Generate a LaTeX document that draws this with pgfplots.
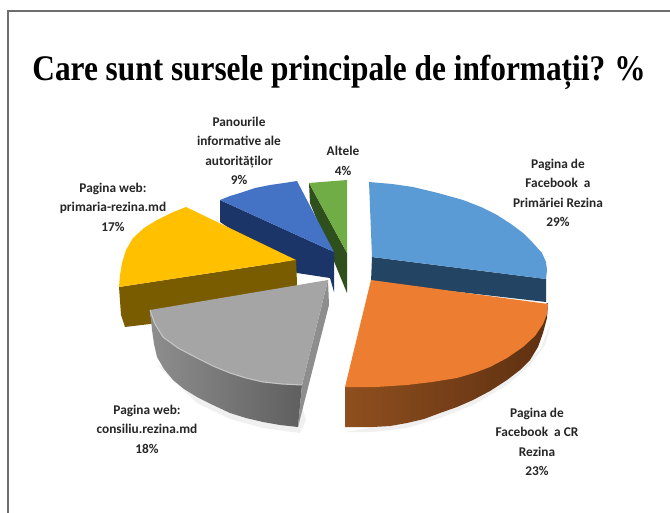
\documentclass[border=0pt]{standalone}
\usepackage{fontspec}
\setmainfont{Carlito}
\newfontfamily\titlefont{Liberation Serif}[FakeStretch=0.87]
\usepackage{pgfplots}
\pgfplotsset{compat=1.18}
\definecolor{frame}{HTML}{6E6E6E}
\definecolor{lab}{HTML}{262626}
\definecolor{bluetop}{HTML}{5B9BD5}
\definecolor{blueside}{HTML}{234563}
\definecolor{orangetop}{HTML}{ED7D31}
\definecolor{orangeA}{HTML}{8F4F1E}
\definecolor{orangeB}{HTML}{5E3011}
\definecolor{graytop}{HTML}{A5A5A5}
\definecolor{grayA}{HTML}{8E8E8E}
\definecolor{grayB}{HTML}{5F5F5F}
\definecolor{yellowtop}{HTML}{FFC000}
\definecolor{yellowside}{HTML}{7A5C00}
\definecolor{navytop}{HTML}{4472C4}
\definecolor{navyside}{HTML}{1C3568}
\definecolor{greentop}{HTML}{70AD47}
\definecolor{greenside}{HTML}{2F4F1C}
\tikzset{lbl/.style={font=\bfseries\fontsize{10}{14.6}\selectfont,text=lab,align=center,inner sep=0pt}}
\begin{document}
\begin{tikzpicture}
\begin{axis}[width=502.5pt,height=384.75pt,scale only axis,hide axis,
 xmin=0,xmax=670,ymin=0,ymax=513,y dir=reverse,clip=true]
% page background, keeps the full picture size
\addplot[fill=white,draw=none] coordinates {(0,0) (670,0) (670,513) (0,513)};
% frame
\addplot[frame,line width=2pt] coordinates {(670,11) (8,11) (8,513)};
% shadows
\addplot[fill=black!6,draw=none] coordinates {(157,365) (197,403) (230,419) (263,428) (300,433) (306,420) (300,400)};
\addplot[fill=black!6,draw=none] coordinates {(345,432) (373,432) (407,428) (440,418) (473,405) (507,385) (530,365) (545,345) (552,320) (540,350) (500,380) (420,420)};
% green
\addplot[fill=greenside,draw=none] coordinates {(309,183) (347,253) (347,293) (310,203)};
\addplot[fill=greentop,draw=none] coordinates {(309,183) (347,180) (347,253)};
% dark blue
\addplot[fill=navyside,draw=none] coordinates {(220,200) (334,252) (334,292) (330,278) (297,273) (220,222)};
\addplot[fill=navytop,draw=none] coordinates {(220,200) (230,196) (240,193) (255,188) (270,185) (284,183) (297,181) (334,252)};
% yellow
\addplot[fill=yellowside,draw=none] coordinates {(119,287) (296,260) (297,283) (296,290) (150,324) (125,327) (121,315)};
\addplot[fill=yellowtop,draw=none] coordinates {(186,207) (171,213) (157,220) (144,228) (133,238) (126,250) (122,263) (120,275) (119,287) (296,260)};
% gray
\addplot[shade,left color=grayA,right color=grayB,draw=none] coordinates {(150,310) (152,330) (154,344) (157,357) (164,369) (173,380) (184,389) (197,397) (213,405) (230,413) (246,418) (263,422) (280,425) (298,427) (302,385) (150,310)};
\addplot[fill=grayA,draw=none] coordinates {(302,385) (298,427) (329,305) (328,280)};
\addplot[fill=graytop,draw=none] coordinates {(150,310) (155,324) (163,337) (178,348) (197,358) (213,366) (230,373) (246,378) (263,382) (282,384) (302,385) (328,280)};
\addplot[gray!45,line width=0.8pt] coordinates {(150,310) (155,324) (163,337) (178,348) (197,358) (213,366) (230,373) (246,378) (263,382) (282,384) (302,385)};
% blue
\addplot[fill=blueside,draw=none] coordinates {(372,257) (546,279) (546,302) (371,282)};
\addplot[fill=bluetop,draw=none] coordinates {(369,182) (392,184) (413,187) (438,193) (463,200) (481,207) (497,215) (511,224) (523,233) (533,243) (542,253) (546,262) (547,270) (546,279) (372,257)};
% orange
\addplot[shade,left color=orangeA,right color=orangeB,draw=none] coordinates {(345,387) (345,427) (373,427) (390,426) (407,423) (424,419) (440,413) (457,407) (473,400) (490,391) (507,380) (520,370) (530,360) (538,347) (543,333) (547,318) (548,303) (345,387)};
\addplot[fill=orangetop,draw=none] coordinates {(371,280) (548,304) (547,314) (543,324) (535,336) (523,347) (507,358) (490,367) (474,373) (457,378) (432,382) (407,385) (376,387) (345,387)};
% text
\node[inner sep=0pt,font=\titlefont\bfseries\fontsize{27}{32}\selectfont,text=black] at (axis cs:339,72) {Care sunt sursele principale de informații?\hspace{-1pt} \%};
\node[lbl] at (axis cs:239,151) {Panourile\\informative ale\\autorităților\\9\%};
\node[lbl] at (axis cs:343,161) {Altele\\4\%};
\node[lbl] at (axis cs:558,193) {Pagina de\\Facebook\ \ a\\Primăriei Rezina\\29\%};
\node[lbl] at (axis cs:113,207) {Pagina web:\\primaria-rezina.md\\17\%};
\node[lbl] at (axis cs:147,429) {Pagina web:\\consiliu.rezina.md\\18\%};
\node[lbl] at (axis cs:537,442) {Pagina de\\Facebook\ \ a CR\\Rezina\\23\%};
\end{axis}
\end{tikzpicture}
\end{document}
